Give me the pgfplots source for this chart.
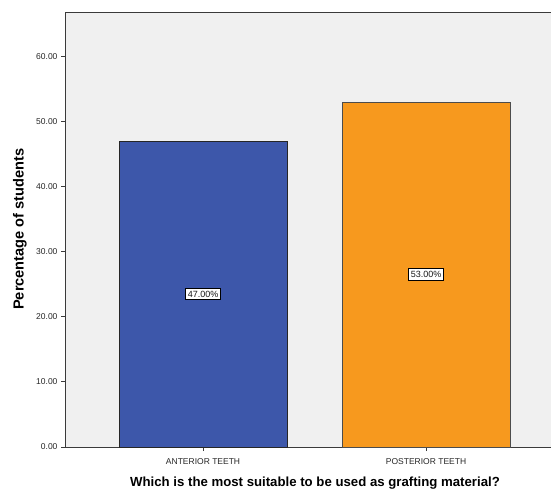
\documentclass[border=0pt]{standalone}
\usepackage{pgfplots}
\pgfplotsset{compat=1.18}
\usepackage{pgfplotstable}
\usepackage{fontspec}
\setmainfont{Liberation Sans}

\definecolor{plotbg}{HTML}{F0F0F0}
\definecolor{antblue}{HTML}{3D57AA}
\definecolor{postorange}{HTML}{F7991E}
\definecolor{axisgray}{HTML}{3A3A3A}

% share of students per answer, in percent
\pgfplotstableread{
idx pct
0   47.00
1   53.00
}\answers

\begin{document}
\begin{tikzpicture}
\clip (0,0) rectangle (551pt,491pt);
\begin{axis}[
    at={(65pt,44pt)}, anchor=south west,
    scale only axis,
    width=500pt, height=435pt,
    xmin=-0.619, xmax=1.623,
    ymin=0, ymax=66.8,
    axis background/.style={fill=plotbg},
    axis line style={axisgray, line width=0.8pt},
    tick style={axisgray, line width=0.8pt},
    tick align=outside,
    major tick length=4pt,
    xtick={0,1},
    xticklabels={ANTERIOR TEETH, POSTERIOR TEETH},
    ytick={0,10,20,30,40,50,60},
    xtick pos=bottom, ytick pos=left,
    yticklabel={\pgfmathprintnumber[fixed,fixed zerofill,precision=2]{\tick}},
    /pgf/number format/assume math mode=true,
    ticklabel style={font=\fontsize{8.5}{10}\selectfont, text=black!85},
    xticklabel style={yshift=-4pt},
    xlabel={Which is the most suitable to be used as grafting material?},
    ylabel={Percentage of students},
    xlabel style={at={(axis description cs:0.5,-0.083)}, anchor=center,
                  font=\fontsize{13.2}{15}\selectfont\bfseries},
    ylabel style={at={(axis description cs:-0.09,0.501)}, anchor=center, rotate=0,
                  font=\fontsize{14.6}{16}\selectfont\bfseries},
]
\addplot[ybar, bar width=168pt, fill=antblue, draw=black!85, line width=0.7pt,
         restrict x to domain=-0.5:0.5]
    table[x=idx, y=pct] {\answers};
\addplot[ybar, bar width=168pt, fill=postorange, draw=black!70, line width=0.7pt,
         restrict x to domain=0.5:1.5]
    table[x=idx, y=pct] {\answers};
% value labels sit halfway up each bar
\addplot[draw=none, mark=none,
         point meta=explicit,
         nodes near coords={\pgfmathprintnumber[fixed,fixed zerofill,precision=2]{\pgfplotspointmeta}\%},
         every node near coord/.style={anchor=center, fill=white, draw=black,
             line width=0.7pt, inner xsep=2pt, inner ysep=2.6pt,
             font=\fontsize{9}{10}\selectfont, text=black!90}]
    table[x=idx, y expr=\thisrow{pct}/2, meta=pct] {\answers};
\end{axis}
\end{tikzpicture}
\end{document}
